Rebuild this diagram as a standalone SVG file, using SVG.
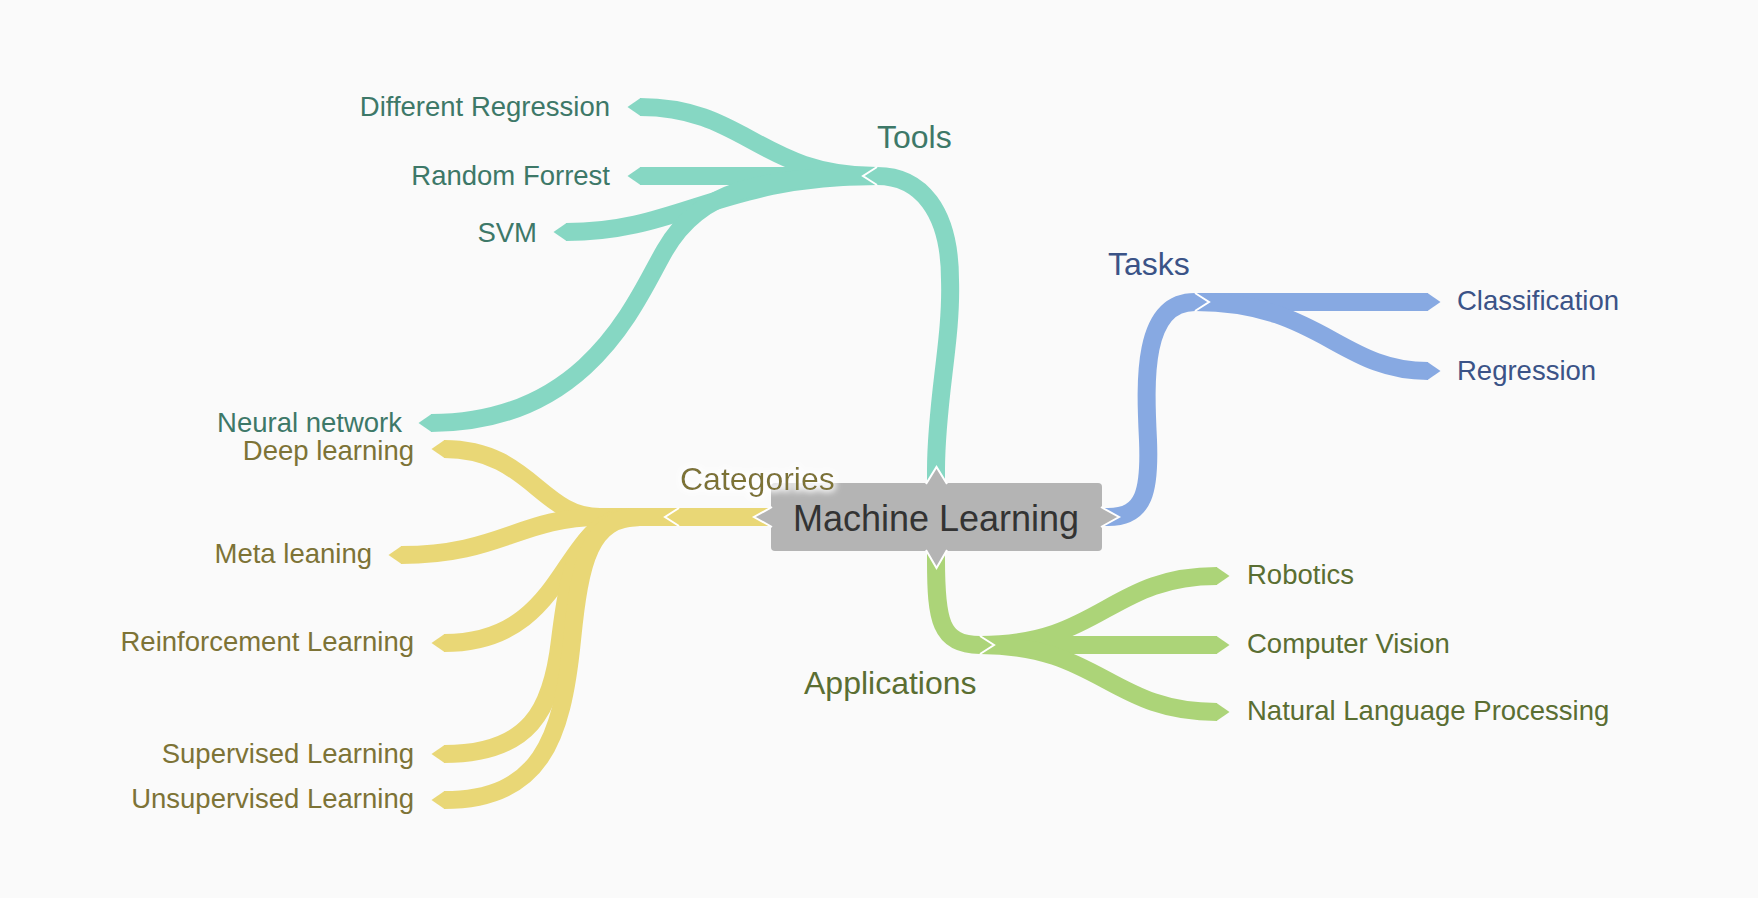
<svg xmlns="http://www.w3.org/2000/svg" width="1758" height="898" viewBox="0 0 1758 898">
<defs>
<style>
.lbl{font-family:"Liberation Sans",Arial,Helvetica,sans-serif;font-size:27.5px}
.hd{font-family:"Liberation Sans",Arial,Helvetica,sans-serif;font-size:32px}
.c{fill:none;stroke-width:18;stroke-linecap:butt;stroke-linejoin:round}
.t{stroke:#86d7c3}.y{stroke:#e9d776}.b{stroke:#87a9e2}.g{stroke:#acd478}
.tt{fill:#3d7868}.yt{fill:#7d7336}.bt{fill:#3b5387}.gt{fill:#5a6e32}
.tab{fill:#b4b4b4;stroke:#fff;stroke-width:2;stroke-linejoin:miter}
</style>
<filter id="glow" x="-10%" y="-40%" width="120%" height="180%">
<feMorphology in="SourceAlpha" operator="dilate" radius="2" result="d"/>
<feGaussianBlur in="d" stdDeviation="3" result="bl"/>
<feFlood flood-color="#fff" flood-opacity="0.9"/>
<feComposite in2="bl" operator="in" result="gl"/>
<feMerge><feMergeNode in="gl"/><feMergeNode in="SourceGraphic"/></feMerge>
</filter>
<marker id="leafT" viewBox="0 0 14 18" refX="0.5" refY="9" markerWidth="14" markerHeight="18" markerUnits="userSpaceOnUse" orient="auto" overflow="visible"><path d="M0,0 L13,9 L0,18 Z" fill="#86d7c3"/></marker>
<marker id="leafY" viewBox="0 0 14 18" refX="0.5" refY="9" markerWidth="14" markerHeight="18" markerUnits="userSpaceOnUse" orient="auto" overflow="visible"><path d="M0,0 L13,9 L0,18 Z" fill="#e9d776"/></marker>
<marker id="leafB" viewBox="0 0 14 18" refX="0.5" refY="9" markerWidth="14" markerHeight="18" markerUnits="userSpaceOnUse" orient="auto" overflow="visible"><path d="M0,0 L13,9 L0,18 Z" fill="#87a9e2"/></marker>
<marker id="leafG" viewBox="0 0 14 18" refX="0.5" refY="9" markerWidth="14" markerHeight="18" markerUnits="userSpaceOnUse" orient="auto" overflow="visible"><path d="M0,0 L13,9 L0,18 Z" fill="#acd478"/></marker>
<marker id="hubT" viewBox="0 0 15 18" refX="0" refY="9" markerWidth="15" markerHeight="18" markerUnits="userSpaceOnUse" orient="auto" overflow="visible"><path d="M0,0 L14,9 L0,18" fill="#86d7c3" stroke="#fff" stroke-width="2"/></marker>
<marker id="hubY" viewBox="0 0 15 18" refX="0" refY="9" markerWidth="15" markerHeight="18" markerUnits="userSpaceOnUse" orient="auto" overflow="visible"><path d="M0,0 L14,9 L0,18" fill="#e9d776" stroke="#fff" stroke-width="2"/></marker>
<marker id="hubB" viewBox="0 0 15 18" refX="0" refY="9" markerWidth="15" markerHeight="18" markerUnits="userSpaceOnUse" orient="auto" overflow="visible"><path d="M0,0 L14,9 L0,18" fill="#87a9e2" stroke="#fff" stroke-width="2"/></marker>
<marker id="hubG" viewBox="0 0 15 18" refX="0" refY="9" markerWidth="15" markerHeight="18" markerUnits="userSpaceOnUse" orient="auto" overflow="visible"><path d="M0,0 L14,9 L0,18" fill="#acd478" stroke="#fff" stroke-width="2"/></marker>
</defs>
<rect width="1758" height="898" fill="#fafafa"/>

<g id="connectors">
  <!-- Tools children -->
  <path class="c t" marker-end="url(#leafT)" d="M877 176 C760 176 745 107 640 107"/>
  <path class="c t" marker-end="url(#leafT)" d="M877 176 L640 176"/>
  <path class="c t" marker-end="url(#leafT)" d="M877 176 C720 176 680 232 566 232"/>
  <path class="c t" marker-end="url(#leafT)" d="M877 176 C760 176 700 190 665 250 C637 298 590 423 431 423"/>
  <!-- Tools trunk -->
  <path class="c t" marker-end="url(#hubT)" d="M936 500 L936 470 C936 400 952 340 950 280 C950 210 920 176 877 176"/>

  <!-- Categories children -->
  <path class="c y" marker-end="url(#leafY)" d="M679 517 L600 517 C540 517 530 449 444 449"/>
  <path class="c y" marker-end="url(#leafY)" d="M679 517 L600 517 C520 517 500 555 401 555"/>
  <path class="c y" marker-end="url(#leafY)" d="M679 517 L630 517 C560 517 570 643 444 643"/>
  <path class="c y" marker-end="url(#leafY)" d="M679 517 L640 517 C580 517 570 560 560 640 C552 710 530 754 444 754"/>
  <path class="c y" marker-end="url(#leafY)" d="M679 517 L640 517 C590 517 580 560 572 640 C562 740 540 800 444 800"/>
  <!-- Categories trunk -->
  <path class="c y" marker-end="url(#hubY)" d="M790 517 L679 517"/>

  <!-- Tasks children -->
  <path class="c b" marker-end="url(#leafB)" d="M1195 302 L1428 302"/>
  <path class="c b" marker-end="url(#leafB)" d="M1195 302 C1320 302 1340 371 1428 371"/>
  <!-- Tasks trunk -->
  <path class="c b" marker-end="url(#hubB)" d="M1090 517 L1108 517 C1145 517 1150 490 1148 440 C1145 380 1142 302 1195 302"/>

  <!-- Applications children -->
  <path class="c g" marker-end="url(#leafG)" d="M980 645 C1100 645 1110 576 1217 576"/>
  <path class="c g" marker-end="url(#leafG)" d="M980 645 L1217 645"/>
  <path class="c g" marker-end="url(#leafG)" d="M980 645 C1100 645 1110 712 1217 712"/>
  <!-- Applications trunk -->
  <path class="c g" marker-end="url(#hubG)" d="M936 540 L936 560 C936 620 940 645 980 645"/>
</g>

<g id="node-ml">
  <rect x="771" y="483" width="331" height="68" rx="4" fill="#b4b4b4"/>
  <path class="tab" d="M926 484 L936.5 467 L947 484"/>
  <path class="tab" d="M926 550 L936.5 568 L947 550"/>
  <path class="tab" d="M772 507 L754 517 L772 527"/>
  <path class="tab" d="M1101 507 L1119 517 L1101 527"/>
  <text x="936" y="531" text-anchor="middle" font-family="Liberation Sans, Arial, Helvetica, sans-serif" font-size="36" fill="#333">Machine Learning</text>
</g>

<g id="node-tools"><text class="hd tt" x="877" y="148">Tools</text></g>
<g id="node-different-regression"><text class="lbl tt" x="610" y="116" text-anchor="end">Different Regression</text></g>
<g id="node-random-forrest"><text class="lbl tt" x="610" y="185" text-anchor="end">Random Forrest</text></g>
<g id="node-svm"><text class="lbl tt" x="537" y="242" text-anchor="end">SVM</text></g>
<g id="node-neural-network"><text class="lbl tt" x="402" y="432" text-anchor="end">Neural network</text></g>

<g id="node-categories"><text class="hd yt" x="680" y="490" filter="url(#glow)">Categories</text></g>
<g id="node-deep-learning"><text class="lbl yt" x="414" y="460" text-anchor="end">Deep learning</text></g>
<g id="node-meta-leaning"><text class="lbl yt" x="372" y="563" text-anchor="end">Meta leaning</text></g>
<g id="node-reinforcement"><text class="lbl yt" x="414" y="651" text-anchor="end">Reinforcement Learning</text></g>
<g id="node-supervised"><text class="lbl yt" x="414" y="763" text-anchor="end">Supervised Learning</text></g>
<g id="node-unsupervised"><text class="lbl yt" x="414" y="808" text-anchor="end">Unsupervised Learning</text></g>

<g id="node-tasks"><text class="hd bt" x="1108" y="275">Tasks</text></g>
<g id="node-classification"><text class="lbl bt" x="1457" y="310">Classification</text></g>
<g id="node-regression"><text class="lbl bt" x="1457" y="380">Regression</text></g>

<g id="node-applications"><text class="hd gt" x="804" y="694">Applications</text></g>
<g id="node-robotics"><text class="lbl gt" x="1247" y="584">Robotics</text></g>
<g id="node-computer-vision"><text class="lbl gt" x="1247" y="653">Computer Vision</text></g>
<g id="node-nlp"><text class="lbl gt" x="1247" y="720">Natural Language Processing</text></g>
</svg>
